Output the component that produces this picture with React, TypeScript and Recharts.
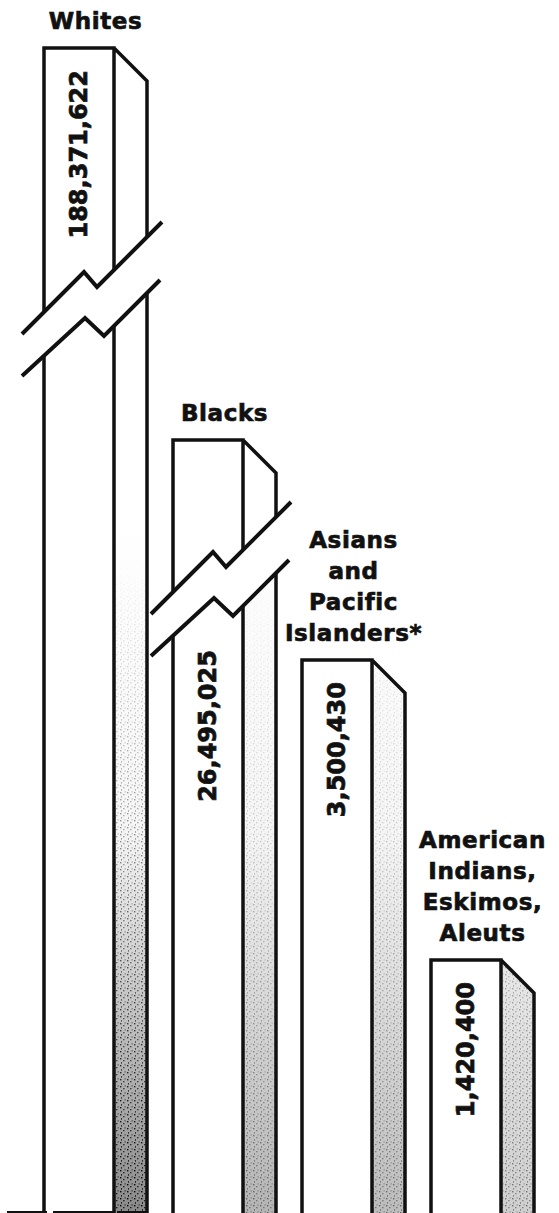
import React from "react";
import { BarChart, Bar, XAxis, YAxis, LabelList } from "recharts";

const groups = ["Whites", "Blacks", "Asians and Pacific Islanders*", "American Indians, Eskimos, Aleuts"];
const groupLines = [
  ["Whites"],
  ["Blacks"],
  ["Asians", "and", "Pacific", "Islanders*"],
  ["American", "Indians,", "Eskimos,", "Aleuts"],
];
const populations = [188371622, 26495025, 3500430, 1420400];

const rows = groups.map((group, i) => ({ group, population: populations[i] }));

// the picture is not drawn to scale: a broken axis, each segment gets its own share of the height
const axisValues = [0, ...[...populations].sort((a, b) => a - b)];
const axisShares = [0, 0.2165, 0.4742, 0.6632, 1];

function makeBrokenScale(values: number[], shares: number[]) {
  let dom = [values[0], values[values.length - 1]];
  let rng = [0, 1];
  const share = (v: number) => {
    for (let i = 1; i < values.length; i++) {
      if (v <= values[i] || i === values.length - 1) {
        const a = values[i - 1];
        const b = values[i];
        return shares[i - 1] + ((shares[i] - shares[i - 1]) * (v - a)) / (b - a);
      }
    }
    return 0;
  };
  const scale: any = (v: number) => rng[0] + (rng[1] - rng[0]) * share(v);
  scale.domain = (d?: number[]) => {
    if (!d) return dom.slice();
    dom = d.slice();
    return scale;
  };
  scale.range = (r?: number[]) => {
    if (!r) return rng.slice();
    rng = r.slice();
    return scale;
  };
  scale.copy = () => makeBrokenScale(values, shares).domain(dom).range(rng);
  scale.ticks = () => [];
  scale.tickFormat = () => (v: number) => String(v);
  scale.nice = () => scale;
  scale.clamp = () => scale;
  return scale;
}

const yScale = makeBrokenScale(axisValues, axisShares);

const INK = "#111";
const FONT = "'DejaVu Sans', Verdana, sans-serif";
const FRONT = 70;
const LINE = 3.5;
// where the zigzag break sits, measured down from the top of the bar
const breakBelowTop: Record<string, number> = { Whites: 264, Blacks: 152 };
const sideShade = ["#8a8a8a", "#b4b4b4", "#bcbcbc", "#cfcfcf"];

const Column = (props: any) => {
  const { x, y, width, height, payload } = props;
  const i = groups.indexOf(payload.group);
  const depth = width - FRONT;
  const xr = x + FRONT;
  const bottom = y + height + 2;
  const side = `${xr},${y} ${x + width},${y + depth} ${x + width},${bottom} ${xr},${bottom}`;
  const brk = breakBelowTop[payload.group];

  let cut = null;
  if (brk !== undefined) {
    const y0 = y + brk;
    const upper = [
      [x - 22, y0 + 22],
      [x + 40, y0 - 40],
      [x + 53, y0 - 25],
      [x + 118, y0 - 90],
    ];
    const lower = [
      [x - 22, y0 + 64],
      [x + 41, y0 + 6],
      [x + 60, y0 + 24],
      [x + 116, y0 - 32],
    ];
    const pts = (a: number[][]) => a.map((p) => p.join(",")).join(" ");
    cut = (
      <g>
        <polygon points={pts([...upper, ...[...lower].reverse()])} fill="#fff" />
        <polyline points={pts(upper)} fill="none" stroke={INK} strokeWidth={4} />
        <polyline points={pts(lower)} fill="none" stroke={INK} strokeWidth={4} />
      </g>
    );
  }

  return (
    <g>
      <defs>
        <linearGradient id={`shade-${i}`} x1="0" y1="520" x2="0" y2="1213" gradientUnits="userSpaceOnUse">
          <stop offset="0" stopColor="#ffffff" />
          <stop offset="0.45" stopColor="#f5f5f5" />
          <stop offset="1" stopColor={sideShade[i]} />
        </linearGradient>
        <pattern id={`grain-${i}`} width="7" height="7" patternUnits="userSpaceOnUse">
          <rect x="1" y="1" width="1.4" height="1.4" fill="#000" />
          <rect x="4.2" y="3" width="1.2" height="1.3" fill="#000" />
          <rect x="2" y="5.2" width="1" height="1.4" fill="#000" />
          <rect x="5.6" y="0.4" width="1" height="1" fill="#000" />
        </pattern>
        <linearGradient id={`fade-${i}`} x1="0" y1="560" x2="0" y2="1213" gradientUnits="userSpaceOnUse">
          <stop offset="0" stopColor="#000" />
          <stop offset="1" stopColor={i === 0 ? "#fff" : "#777"} />
        </linearGradient>
        <mask id={`mask-${i}`} maskUnits="userSpaceOnUse" x="0" y="0" width="559" height="1213">
          <rect x="0" y="0" width="559" height="1213" fill={`url(#fade-${i})`} />
        </mask>
      </defs>
      <rect x={x} y={y} width={FRONT} height={height + 2} fill="#fff" />
      <polygon points={side} fill={`url(#shade-${i})`} />
      <polygon points={side} fill={`url(#grain-${i})`} mask={`url(#mask-${i})`} />
      <path
        d={`M${x},${bottom} V${y} H${xr} V${bottom} M${xr},${y} L${x + width},${y + depth} V${bottom}`}
        fill="none"
        stroke={INK}
        strokeWidth={LINE}
        strokeLinejoin="miter"
      />
      {cut}
      {i === 0 && (
        <path d={`M7,${bottom - 2} H${x + width}`} stroke={INK} strokeWidth={2} strokeDasharray="40 6 60 4" />
      )}
    </g>
  );
};

const GroupLabel = (props: any) => {
  const vb = props.viewBox || props;
  const i = groups.indexOf(props.value);
  const lines = groupLines[i] || [String(props.value)];
  const cx = vb.x + vb.width / 2;
  const last = vb.y - 19;
  return (
    <text
      x={cx}
      textAnchor="middle"
      fontFamily={FONT}
      fontWeight="bold"
      fontSize={23}
      letterSpacing={0.6}
      fill={INK}
      stroke={INK}
      strokeWidth={0.7}
    >
      {lines.map((line, k) => (
        <tspan key={k} x={cx} y={last - (lines.length - 1 - k) * 31}>
          {line}
        </tspan>
      ))}
    </text>
  );
};

const ValueLabel = (props: any) => {
  const vb = props.viewBox || props;
  const i = populations.indexOf(Number(props.value));
  const text = Number(props.value).toLocaleString("en-US");
  const cx = vb.x + FRONT / 2 + 8;
  const brk = breakBelowTop[groups[i]];
  const need = 25 + text.length * 15.5;
  const top = brk !== undefined && brk < need ? vb.y + brk + 58 : vb.y + 22;
  return (
    <text
      x={cx}
      y={top}
      transform={`rotate(-90 ${cx} ${top})`}
      textAnchor="end"
      fontFamily={FONT}
      fontWeight="bold"
      fontSize={24}
      fill={INK}
      stroke={INK}
      strokeWidth={0.7}
    >
      {text}
    </text>
  );
};

export default function App() {
  return (
    <div style={{ position: "absolute", left: 0, top: 0, width: 559, height: 1213, background: "#fff" }}>
      <BarChart
        width={559}
        height={1213}
        data={rows}
        margin={{ top: 48, right: 12, left: 31, bottom: 1 }}
      >
        <XAxis dataKey="group" hide />
        <YAxis hide type="number" domain={[0, axisValues[axisValues.length - 1]]} scale={yScale} />
        <Bar dataKey="population" barSize={103} shape={<Column />} isAnimationActive={false}>
          <LabelList dataKey="group" content={<GroupLabel />} />
          <LabelList dataKey="population" content={<ValueLabel />} />
        </Bar>
      </BarChart>
    </div>
  );
}
